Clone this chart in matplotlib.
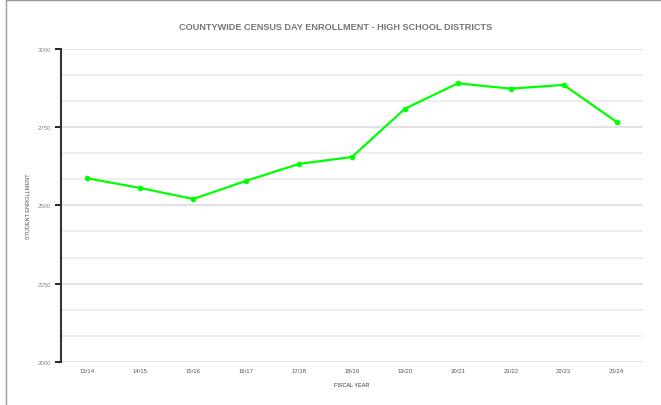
import matplotlib
matplotlib.use('Agg')
import matplotlib.pyplot as plt
from matplotlib.lines import Line2D
import numpy as np

plt.rcParams['font.family'] = ['Liberation Sans', 'DejaVu Sans']

years = ['13/14', '14/15', '15/16', '16/17', '17/18', '18/19',
         '19/20', '20/21', '21/22', '22/23', '23/24']
enrollment = [2586, 2555, 2520, 2578, 2632, 2654,
              2808, 2889, 2872, 2884, 2766]
major_ticks = [2000, 2250, 2500, 2750, 3000]

fig = plt.figure(figsize=(6.61, 4.06), dpi=100)
ax = fig.add_axes([0.0923, 0.1059, 0.8805, 0.7721])

x = np.arange(len(years))
ax.plot(x, enrollment, color='#00ff00', lw=1.6, marker='o', ms=3, zorder=3)

ax.set_xlim(-0.5, len(years) - 0.5)
ax.set_ylim(2000, 3000)
ax.set_yticks(major_ticks)
ax.set_yticks(np.linspace(2000, 3000, 13), minor=True)
ax.set_xticks(x)
ax.set_xticklabels(years, fontsize=4.3, color='#555555')
ax.set_yticklabels([str(v) for v in major_ticks], fontsize=4.3, color='#888888')

ax.grid(axis='y', which='major', color='#dddddd', lw=1.2, zorder=0)
ax.grid(axis='y', which='minor', color='#ebebeb', lw=1.2, zorder=0)
ax.tick_params(axis='y', which='major', length=4, width=1.2, color='black', pad=3)
ax.tick_params(axis='y', which='minor', length=0)
ax.tick_params(axis='x', length=0, pad=4)

for side in ['top', 'right', 'bottom']:
    ax.spines[side].set_visible(False)
ax.spines['left'].set_color('#333333')
ax.spines['left'].set_linewidth(1.5)

ax.set_ylabel('STUDENT ENROLLMENT', fontsize=4, color='#555555', labelpad=5)
ax.set_xlabel('FISCAL YEAR', fontsize=4, color='#333333', labelpad=7)
fig.text(0.507, 0.933, 'COUNTYWIDE CENSUS DAY ENROLLMENT - HIGH SCHOOL DISTRICTS',
         ha='center', va='center', fontsize=6.6, fontweight='bold', color='#777777')

# chart box border (left and top edges visible)
fig.add_artist(Line2D([0.0095, 0.0095], [0, 0.997], color='#9a9a9a', lw=1))
fig.add_artist(Line2D([0.0095, 1], [0.997, 0.997], color='#9a9a9a', lw=1))

fig.savefig('out.png', dpi=100)
